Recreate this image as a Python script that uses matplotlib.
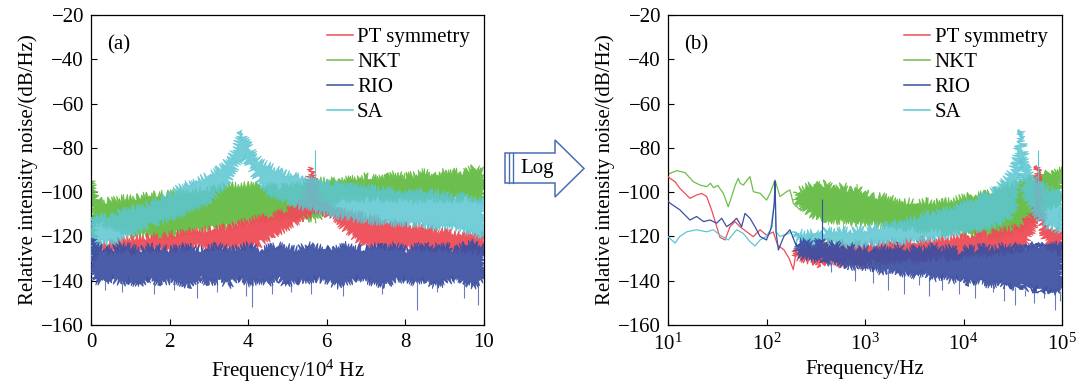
# -*- coding: utf-8 -*-
import numpy as np
import matplotlib
matplotlib.use("Agg")
import matplotlib.pyplot as plt
from matplotlib.patches import Polygon
from matplotlib.lines import Line2D

plt.rcParams['font.family'] = ['Liberation Serif', 'DejaVu Serif']
plt.rcParams['mathtext.fontset'] = 'custom'
plt.rcParams['mathtext.rm'] = 'Liberation Serif'
plt.rcParams['mathtext.it'] = 'Liberation Serif:italic'
plt.rcParams['mathtext.default'] = 'regular'

############################################################
# Data, panel (a): linear frequency axis, unit 10^4 Hz
############################################################
series_names = ["PT symmetry", "NKT", "RIO", "SA"]

fa = [0, 0.1, 0.25, 0.5, 0.75, 1.0, 1.25, 1.5, 1.75, 2.0, 2.25, 2.5, 2.75, 3.0,
      3.25, 3.5, 3.75, 4.0, 4.25, 4.5, 4.75, 5.0, 5.25, 5.5, 5.75, 6.0, 6.25, 6.5,
      6.75, 7.0, 7.25, 7.5, 7.75, 8.0, 8.25, 8.5, 8.75, 9.0, 9.25, 9.5, 9.75, 10.0]

nkt_a_hi = [-95, -102, -104, -104, -103, -103, -102, -101, -101, -101, -100, -100, -99, -99,
            -98, -97, -97, -97, -97, -97, -98, -97, -97, -96, -95, -95, -95, -94,
            -94, -93, -94, -93, -92, -93, -92, -91, -92, -91, -91, -91, -89, -91]
nkt_a_lo = [-126, -114, -113, -116, -117, -119, -119, -120, -120, -120, -118, -118, -117, -117,
            -116, -115, -114, -114, -112, -113, -111, -112, -111, -112, -112, -108, -104, -103,
            -103, -103, -103, -103, -103, -103, -104, -103, -103, -104, -103, -103, -103, -104]

rio_a_hi = [-120, -124, -125, -126, -124, -125, -126, -124, -125, -126, -125, -124, -126, -125,
            -124, -126, -125, -124, -126, -125, -124, -125, -126, -124, -125, -126, -125, -124,
            -125, -126, -124, -125, -124, -126, -125, -123, -125, -124, -126, -124, -123, -125]
rio_a_lo = [-135, -140, -141, -139, -141, -140, -142, -139, -141, -140, -141, -142, -139, -141,
            -140, -142, -139, -141, -140, -141, -139, -142, -140, -141, -139, -140, -142, -141,
            -139, -140, -141, -142, -140, -139, -141, -140, -142, -141, -139, -141, -142, -140]
rio_a_dip_x = [0.35, 0.8, 1.6, 2.1, 2.7, 3.2, 3.95, 4.1, 4.6, 5.1, 5.6, 6.4, 7.4, 8.3, 8.8, 9.5, 9.85]
rio_a_dip_y = [-144, -145, -146, -144, -148, -145, -147, -152, -146, -145, -146, -147, -146, -153, -145, -148, -151]

fa_sa = [0, 0.1, 0.25, 0.5, 0.75, 1.0, 1.25, 1.5, 1.75, 2.0, 2.25, 2.5, 2.75, 3.0, 3.2,
         3.4, 3.55, 3.7, 3.8, 3.85, 3.9, 4.0, 4.15, 4.3, 4.5, 4.75, 5.0, 5.25, 5.5, 5.75,
         6.0, 6.5, 7.0, 7.5, 8.0, 8.5, 9.0, 9.25, 9.5, 9.75, 10.0]
sa_a_hi = [-110, -112, -111, -111, -109, -108, -107, -105, -103, -101, -98, -96, -94, -92, -90,
           -87, -84, -79, -74, -72, -75, -78, -83, -86, -88, -90, -92, -93, -94, -95,
           -96, -97, -98, -99, -100, -100, -101, -102, -102, -103, -104]
sa_a_lo = [-130, -125, -123, -123, -121, -119, -117, -115, -113, -112, -110, -108, -106, -104, -101,
           -97, -93, -88, -85, -84, -85, -87, -92, -96, -100, -102, -104, -106, -107, -108,
           -110, -111, -113, -114, -114, -115, -116, -116, -117, -119, -120]
sa_a_spike = (5.7, -96, -81)

fa_pt = [0, 0.1, 0.25, 0.5, 0.75, 1.0, 1.25, 1.5, 1.75, 2.0, 2.25, 2.5, 2.75, 3.0, 3.25,
         3.5, 3.75, 4.0, 4.25, 4.5, 4.75, 5.0, 5.25, 5.45, 5.55, 5.62, 5.7, 5.8, 6.0, 6.25,
         6.5, 6.75, 7.0, 7.25, 7.5, 7.75, 8.0, 8.5, 9.0, 9.5, 9.75, 10.0]
pt_a_hi = [-125, -123, -124, -123, -122, -121, -121, -120, -120, -119, -119, -118, -117, -117, -116,
           -116, -114, -113, -112, -111, -110, -108, -106, -103, -95, -89, -95, -103, -106, -108,
           -109, -110, -111, -112, -113, -114, -115, -116, -118, -119, -120, -119]
pt_a_lo = [-132, -127, -126, -127, -126, -127, -126, -126, -125, -126, -125, -125, -124, -125, -124,
           -125, -124, -125, -124, -121, -118, -116, -113, -111, -110, -109.5, -109, -108.5, -110, -113,
           -117, -121, -124, -124, -125, -124, -125, -125, -126, -126, -127, -127]

############################################################
# Data, panel (b): log frequency axis, Hz
############################################################
# sparse low-frequency traces
nkt_f = [10, 10.5, 12.3, 14.9, 18.1, 21.1, 24.7, 27, 29, 32, 36.5, 40.9, 44.3, 48, 51.7,
         54, 58.2, 65.4, 68, 73.5, 86, 100, 110, 122, 137, 160, 173, 187, 219, 256]
nkt_v = [-92, -91.5, -90.3, -91.2, -95.3, -96.8, -97.5, -96, -98, -97, -100.6, -106.6, -102, -97, -93.8,
         -96, -96.8, -93.8, -93, -99.8, -100.5, -103.6, -100, -94.5, -102, -99.8, -99, -105, -108, -100.6]

pt_f = [10, 10.5, 11.8, 13.2, 14.9, 16.7, 19.5, 22, 24.7, 27.7, 31.2, 33.7, 37.9, 42.6,
        47.8, 53.7, 62.8, 73.5, 86, 100, 117, 130, 150, 170, 187, 200, 210, 244, 300]
pt_v = [-93, -93.8, -95.3, -98.3, -100.6, -102.8, -101.3, -100.6, -102, -108, -115.6, -120.4, -121.6, -115.6,
        -113.3, -115.6, -117.9, -120.1, -117, -119.4, -118, -124, -126, -130, -135, -127, -128, -129, -126]

rio_f = [10, 10.5, 13.2, 16.7, 19.5, 23, 26.7, 31.2, 35.1, 39.4, 44.3, 49.8, 55.9, 60.5, 68,
         76.4, 86, 100, 113, 120, 122, 125, 132, 150, 173, 202, 244, 276, 300]
rio_v = [-104, -105, -108, -112.6, -111, -113.3, -112.6, -114, -111.8, -115.6, -114, -111.8, -115.6, -109.6, -111.8,
         -115.6, -120, -121.6, -115.6, -105, -95, -118, -126.1, -120, -117, -124.6, -121.6, -125.4, -124]

sa_f = [10, 10.5, 11.8, 13.2, 15.5, 19.5, 24.7, 28.9, 33.7, 40.9, 49.8, 58, 68, 76.4,
        86, 100, 110, 120, 122, 125, 137, 187, 256, 300]
sa_v = [-120, -120.9, -123, -120, -117.9, -117, -117.9, -117, -119.4, -121.6, -117, -118.6, -122.4, -124.3,
        -121.6, -120, -117, -105, -96, -118, -120, -117.9, -121.6, -119]

# dense high-frequency bands
fb = [200, 250, 300, 350, 400, 500, 600, 700, 850, 1000, 1200, 1500, 1800, 2200, 2700, 3300,
      4000, 5000, 6000, 7500, 9000, 11000, 13000, 16000, 19000, 23000, 27000, 31000, 34000,
      36000, 37500, 38500, 40000, 42000, 45000, 48000, 52000, 55000, 57000, 59000, 62000,
      66000, 70000, 76000, 83000, 90000, 100000]

nkt_b_hi = [-100, -98, -96, -97, -96, -99, -97, -99, -98, -100, -102, -102, -103, -104, -104, -105,
            -104, -105, -104, -104, -103, -102, -101, -101, -100, -99, -97, -97, -96,
            -96, -96, -95, -95, -95, -94, -94, -94, -93, -93, -93, -92,
            -92, -92, -91, -91, -90, -90]
nkt_b_lo = [-104, -108, -111, -112, -112, -113, -113, -114, -114, -114, -114, -115, -115, -116, -116, -117,
            -117, -117, -118, -118, -118, -119, -119, -119, -120, -120, -120, -119, -118,
            -118, -117, -117, -116, -116, -115, -114, -112, -112, -111, -110, -109,
            -108, -107, -106, -106, -105, -104]

sa_b_hi = [-118, -119, -118, -119, -117, -118, -117, -118, -116, -117, -115, -116, -114, -114, -112, -112,
           -110, -110, -108, -108, -106, -105, -103, -102, -100, -97, -94, -90, -85,
           -79, -74, -72, -78, -84, -89, -92, -94, -95, -96, -96, -97,
           -97, -98, -99, -99, -100, -101]
sa_b_lo = [-121, -123, -124, -124, -123, -124, -124, -124, -123, -124, -123, -123, -122, -123, -122, -122,
           -121, -121, -120, -119, -118, -117, -117, -116, -115, -114, -112, -110, -104,
           -96, -87, -85, -92, -100, -105, -107, -108, -110, -111, -112, -113,
           -114, -115, -116, -116, -117, -118]

pt_b_hi = [-126, -125, -123, -125, -122, -124, -123, -125, -123, -124, -123, -124, -122, -123, -122, -123,
           -121, -122, -121, -121, -120, -120, -119, -119, -118, -118, -117, -117, -116,
           -115, -115, -114, -114, -113, -113, -111, -108, -106, -88, -106, -108,
           -112, -115, -116, -117, -118, -119]
pt_b_lo = [-129, -131, -131, -133, -131, -132, -133, -131, -133, -132, -131, -132, -131, -131, -130, -131,
           -130, -130, -129, -130, -129, -129, -128, -128, -128, -127, -127, -127, -126,
           -126, -126, -125, -124, -123, -122, -119, -115, -113, -112, -113, -116,
           -120, -123, -125, -126, -127, -127]

rio_b_hi = [-123, -122, -124, -121, -125, -123, -126, -124, -126, -125, -127, -125, -126, -124, -127, -125,
            -126, -124, -126, -125, -127, -125, -126, -124, -126, -125, -124, -126, -125,
            -124, -126, -125, -124, -126, -124, -125, -123, -125, -124, -123, -125,
            -124, -123, -125, -124, -123, -124]
rio_b_lo = [-127, -130, -131, -129, -132, -131, -133, -134, -133, -135, -134, -136, -135, -137, -136, -138,
            -137, -139, -138, -140, -139, -141, -140, -141, -142, -141, -143, -142, -143,
            -142, -144, -143, -142, -144, -143, -144, -143, -145, -144, -143, -145,
            -144, -145, -144, -146, -145, -144]
rio_b_dip_x = [450, 800, 1200, 1700, 2500, 3500, 4500, 6000, 9000, 13000, 20000, 26000,
               33000, 42000, 52000, 65000, 85000, 95000]
rio_b_dip_y = [-136, -140, -141, -144, -146, -142, -147, -144, -146, -148, -145, -149,
               -151, -147, -150, -148, -153, -149]

nkt_b_dip_x = [330, 420, 520, 600, 750, 900, 1300]
nkt_b_dip_y = [-111, -115, -114, -117, -113, -116, -115]

sa_b_spikes = [(363, -120, -108), (57500, -96, -81)]
rio_b_spikes = [(363, -124, -103)]

colors = {"PT symmetry": "#EE4C56", "NKT": "#6CBF4C", "RIO": "#3B4FA2", "SA": "#5CC6D2"}

############################################################
# Plots
############################################################
fig = plt.figure(figsize=(10.81, 3.83), dpi=100)
axa = fig.add_axes([91 / 1081, 58 / 383, 393 / 1081, 310 / 383])
axb = fig.add_axes([668 / 1081, 58 / 383, 394 / 1081, 310 / 383])


def band(ax, x, lo, hi, c, a=1.0, z=2):
    # noisy spectrum drawn as a filled envelope, jagged stroke for the noise look
    xs = list(x) + list(x)[::-1]
    ys = list(hi) + list(lo)[::-1]
    p = ax.fill(xs, ys, color=c, alpha=a, lw=0.6, zorder=z)[0]
    p.set_sketch_params(scale=4.5, length=2.5, randomness=2)


def dips(ax, x, base, y, c, z):
    ax.vlines(x, base, y, color=c, lw=0.8, alpha=0.75, zorder=z)


# panel (a)
band(axa, fa, nkt_a_lo, nkt_a_hi, colors["NKT"], 1.0, 2)
band(axa, fa_pt, pt_a_lo, pt_a_hi, colors["PT symmetry"], 0.95, 3)
band(axa, fa_sa, sa_a_lo, sa_a_hi, colors["SA"], 0.85, 4)
axa.vlines(sa_a_spike[0], sa_a_spike[1], sa_a_spike[2], color=colors["SA"], lw=0.8, zorder=4)
band(axa, fa, rio_a_lo, rio_a_hi, colors["RIO"], 0.92, 5)
dips(axa, rio_a_dip_x, np.interp(rio_a_dip_x, fa, rio_a_lo), rio_a_dip_y, colors["RIO"], 5)

# panel (b)
axb.set_xscale('log')
axb.plot(nkt_f, nkt_v, color=colors["NKT"], lw=0.9, zorder=2)
band(axb, fb, nkt_b_lo, nkt_b_hi, colors["NKT"], 1.0, 2)
dips(axb, nkt_b_dip_x, -106, nkt_b_dip_y, colors["NKT"], 2)
axb.plot(pt_f, pt_v, color=colors["PT symmetry"], lw=0.9, zorder=3)
band(axb, fb, pt_b_lo, pt_b_hi, colors["PT symmetry"], 0.95, 3)
axb.plot(sa_f, sa_v, color=colors["SA"], lw=0.9, zorder=4)
band(axb, fb, sa_b_lo, sa_b_hi, colors["SA"], 0.85, 4)
for f, v0, v1 in sa_b_spikes:
    axb.vlines(f, v0, v1, color=colors["SA"], lw=0.8, zorder=4)
axb.plot(rio_f, rio_v, color=colors["RIO"], lw=0.9, zorder=5)
band(axb, fb, rio_b_lo, rio_b_hi, colors["RIO"], 0.92, 5)
for f, v0, v1 in rio_b_spikes:
    axb.vlines(f, v0, v1, color=colors["RIO"], lw=0.8, zorder=5)
dips(axb, rio_b_dip_x, np.interp(np.log10(rio_b_dip_x), np.log10(fb), rio_b_lo), rio_b_dip_y,
     colors["RIO"], 5)

fs = 15
for ax, lab in [(axa, "(a)"), (axb, "(b)")]:
    ax.set_ylim(-160, -20)
    ax.set_yticks(np.arange(-160, -19, 20))
    ax.tick_params(direction='in', length=4, width=0.8, labelsize=fs, top=False, right=False)
    ax.tick_params(axis='x', pad=6)
    ax.tick_params(axis='y', pad=5)
    ax.tick_params(which='minor', length=0)
    ax.set_ylabel("Relative intensity noise/(dB/Hz)", fontsize=fs, labelpad=2)
    ax.text(0.04, 0.903, lab, transform=ax.transAxes, fontsize=fs, va='center', ha='left')
    for s in ax.spines.values():
        s.set_linewidth(0.9)
    handles = [Line2D([], [], color=colors[n], lw=1.1) for n in series_names]
    ax.legend(handles, series_names, loc='upper left', frameon=False, fontsize=fs,
              handlelength=1.25, handletextpad=0.2, labelspacing=0.26,
              borderpad=0, borderaxespad=0, bbox_to_anchor=(0.6, 0.96))

axa.set_xlim(0, 10)
axa.set_xticks([0, 2, 4, 6, 8, 10])
axa.set_xlabel("Frequency/10$^{4}$ Hz", fontsize=fs, labelpad=4)
axb.set_xlim(10, 1e5)
axb.set_xticks([1e1, 1e2, 1e3, 1e4, 1e5])
axb.set_xlabel("Frequency/Hz", fontsize=fs, labelpad=4)

##########################################################
# Log arrow between the panels
##########################################################
def px(x, y):
    return (x / 1081, 1 - y / 383)


arrow_pts = [px(505, 153), px(555, 153), px(555, 140), px(584, 168.5),
             px(555, 197), px(555, 183), px(505, 183)]
fig.add_artist(Polygon(arrow_pts, closed=True, transform=fig.transFigure,
                       facecolor='white', edgecolor='#4A6DB3', lw=1.1))
for xx in (508.5, 512.5):
    fig.add_artist(Line2D([xx / 1081, xx / 1081], [1 - 153 / 383, 1 - 183 / 383],
                          transform=fig.transFigure, color='#4A6DB3', lw=1.0))
fig.text(537 / 1081, 1 - 168 / 383, "Log", fontsize=fs, ha='center', va='center')

plt.savefig("out.png", dpi=100)
